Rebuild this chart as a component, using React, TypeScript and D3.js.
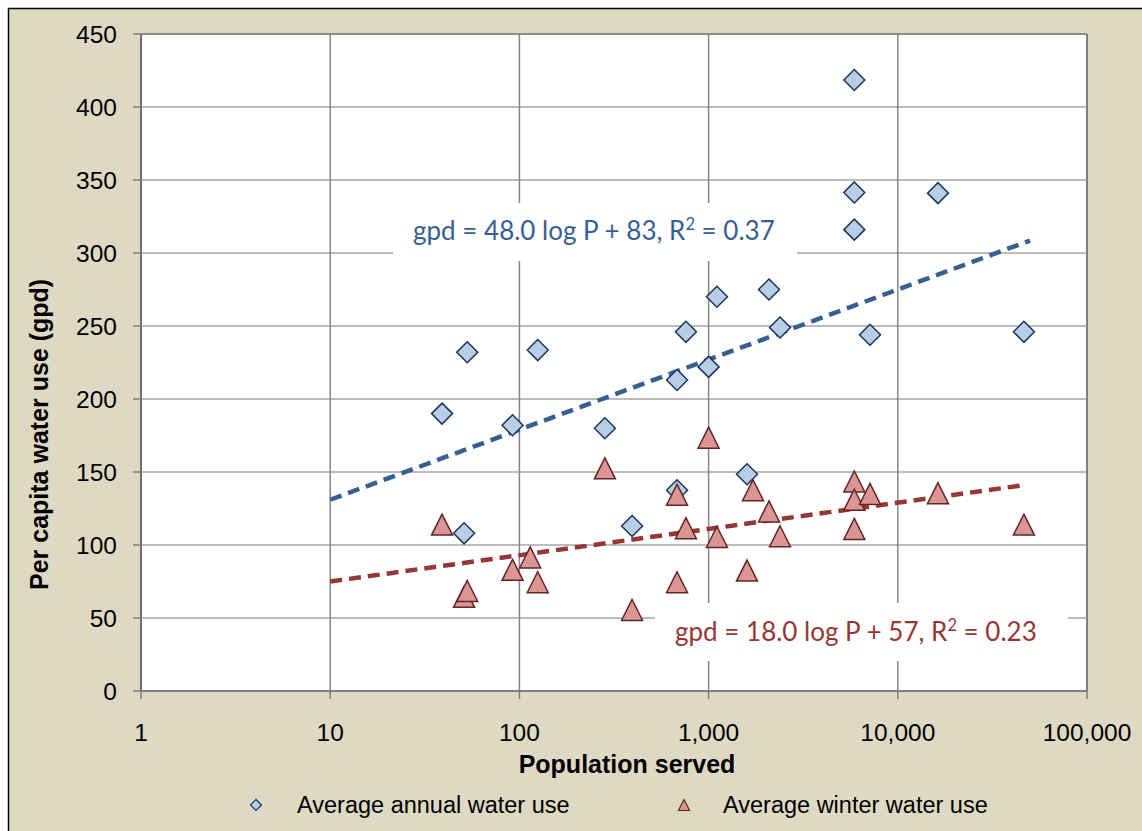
import React from "react";
import * as d3 from "d3";

const annualPop = [39, 51, 53, 92, 125, 283, 394, 681, 681, 759, 1000, 1107, 1596, 2086, 2385, 5890, 5890, 5890, 7130, 16300, 46400];
const annualGpd = [190, 108, 232, 182, 233.5, 180, 113, 137.5, 213, 246, 222, 270, 148.5, 275, 249, 418.5, 341.5, 316, 244, 341, 246];

const winterPop = [39, 51, 53, 92, 114, 125, 283, 394, 681, 681, 759, 1000, 1107, 1596, 1717, 2086, 2385, 5890, 5890, 5890, 7130, 16300, 46400];
const winterGpd = [114, 64.5, 68.5, 83, 91.5, 74.5, 152.5, 55.5, 74.5, 134.5, 111.5, 173.5, 105.5, 82.5, 137.5, 123, 106, 143.5, 131, 111, 135, 135.5, 114];

const xTicks = [1, 10, 100, 1000, 10000, 100000];
const yTicks = [0, 50, 100, 150, 200, 250, 300, 350, 400, 450];

const annualFit = { slope: 48.0, intercept: 83, from: 10, to: 50000 };
const winterFit = { slope: 18.0, intercept: 57, from: 10, to: 47500 };

const annualLabel = ["gpd = 48.0 log P + 83, R", "2", " = 0.37"];
const winterLabel = ["gpd = 18.0 log P + 57, R", "2", " = 0.23"];
const seriesNames = ["Average annual water use", "Average winter water use"];

const BG = "#ddd9c3";
const BLUE_LINE = "#376092";
const RED_LINE = "#953735";
const DIA_FILL = "#b9cde5";
const DIA_STROKE = "#17375e";
const TRI_FILL = "#d99694";
const TRI_STROKE = "#632523";

const diamond = (cx: number, cy: number, r: number) =>
  `M${cx},${cy - r}L${cx + r},${cy}L${cx},${cy + r}L${cx - r},${cy}Z`;
const triangle = (cx: number, cy: number, r: number) =>
  `M${cx},${cy - r}L${cx + r},${cy + r}L${cx - r},${cy + r}Z`;

export default function App() {
  const left = 141, right = 1087, top = 34, bottom = 691;
  const x = d3.scaleLog().domain([1, 100000]).range([left, right]);
  const y = d3.scaleLinear().domain([0, 450]).range([bottom, top]);
  const fmt = d3.format(",");

  const fitLine = (f: { slope: number; intercept: number; from: number; to: number }) => {
    const pts: [number, number][] = [f.from, f.to].map((p) => [p, f.slope * Math.log10(p) + f.intercept]);
    return d3.line<[number, number]>().x((d) => x(d[0])).y((d) => y(d[1]))(pts) || "";
  };

  const axisFont = "'Liberation Sans', Arial, sans-serif";
  const eqFont = "Lato, 'Open Sans', sans-serif";

  return (
    <svg width={1142} height={831} style={{ position: "absolute", left: 0, top: 0 }}>
      <rect x={8.5} y={8.5} width={1160} height={850} fill={BG} stroke="#000" strokeWidth={1.5} />
      <rect x={left} y={top} width={right - left} height={bottom - top} fill="#fff" />
      {yTicks.map((t) => (
        <line key={"hg" + t} x1={left} x2={right} y1={y(t)} y2={y(t)} stroke="#a6a6a6" strokeWidth={1.5} />
      ))}
      {xTicks.map((t) => (
        <line key={"vg" + t} x1={x(t)} x2={x(t)} y1={top} y2={bottom} stroke="#868686" strokeWidth={1.5} />
      ))}
      <line x1={right} x2={right} y1={top} y2={bottom} stroke="#7f7f7f" strokeWidth={2} />
      <line x1={left} x2={right} y1={top} y2={top} stroke="#7f7f7f" strokeWidth={1.5} />
      <line x1={left} x2={left} y1={top} y2={bottom} stroke="#6d6d6d" strokeWidth={2} />
      <line x1={left} x2={right} y1={bottom} y2={bottom} stroke="#7f7f7f" strokeWidth={2} />
      {yTicks.map((t) => (
        <g key={"yt" + t}>
          <line x1={left - 8} x2={left} y1={y(t)} y2={y(t)} stroke="#7f7f7f" strokeWidth={1.5} />
          <text x={117} y={y(t)} dy="0.37em" textAnchor="end" fontFamily={axisFont} fontSize={24.5} fill="#000">
            {t}
          </text>
        </g>
      ))}
      {xTicks.map((t) => (
        <g key={"xt" + t}>
          <line x1={x(t)} x2={x(t)} y1={bottom} y2={bottom + 8} stroke="#7f7f7f" strokeWidth={1.5} />
          <text x={x(t)} y={741} textAnchor="middle" fontFamily={axisFont} fontSize={24.5} fill="#000">
            {fmt(t)}
          </text>
        </g>
      ))}
      <text x={627} y={773} textAnchor="middle" fontFamily={axisFont} fontWeight="bold" fontSize={25}>
        Population served
      </text>
      <text
        transform={`translate(48, 590) rotate(-90)`}
        textAnchor="start"
        fontFamily={axisFont}
        fontWeight="bold"
        fontSize={25}
      >
        Per capita water use (gpd)
      </text>

      <path d={fitLine(annualFit)} fill="none" stroke={BLUE_LINE} strokeWidth={4.5} strokeDasharray="12,7" />
      <path d={fitLine(winterFit)} fill="none" stroke={RED_LINE} strokeWidth={4.5} strokeDasharray="12,7" />

      {annualPop.map((p, i) => (
        <path key={"a" + i} d={diamond(x(p), y(annualGpd[i]), 10.5)} fill={DIA_FILL} stroke={DIA_STROKE} strokeWidth={1.5} />
      ))}
      {winterPop.map((p, i) => (
        <path key={"w" + i} d={triangle(x(p), y(winterGpd[i]), 10.5)} fill={TRI_FILL} stroke={TRI_STROKE} strokeWidth={1.5} />
      ))}

      <rect x={393} y={203} width={404} height={58} fill="#fff" />
      <text x={413} y={240} fontFamily={eqFont} fontSize={26} fill={BLUE_LINE}>
        {annualLabel[0]}
        <tspan fontSize={16.5} dy={-10}>{annualLabel[1]}</tspan>
        <tspan dy={10}>{annualLabel[2]}</tspan>
      </text>
      <rect x={655} y={603} width={413} height={58} fill="#fff" />
      <text x={675} y={641} fontFamily={eqFont} fontSize={26} fill={RED_LINE}>
        {winterLabel[0]}
        <tspan fontSize={16.5} dy={-10}>{winterLabel[1]}</tspan>
        <tspan dy={10}>{winterLabel[2]}</tspan>
      </text>

      <path d={diamond(256, 805, 5.5)} fill={DIA_FILL} stroke={DIA_STROKE} strokeWidth={1.2} />
      <text x={297} y={813} fontFamily={axisFont} fontSize={23.5} fill="#000">
        {seriesNames[0]}
      </text>
      <path d={triangle(684, 805, 5.5)} fill={TRI_FILL} stroke={TRI_STROKE} strokeWidth={1.2} />
      <text x={723} y={813} fontFamily={axisFont} fontSize={23.5} fill="#000">
        {seriesNames[1]}
      </text>
    </svg>
  );
}
